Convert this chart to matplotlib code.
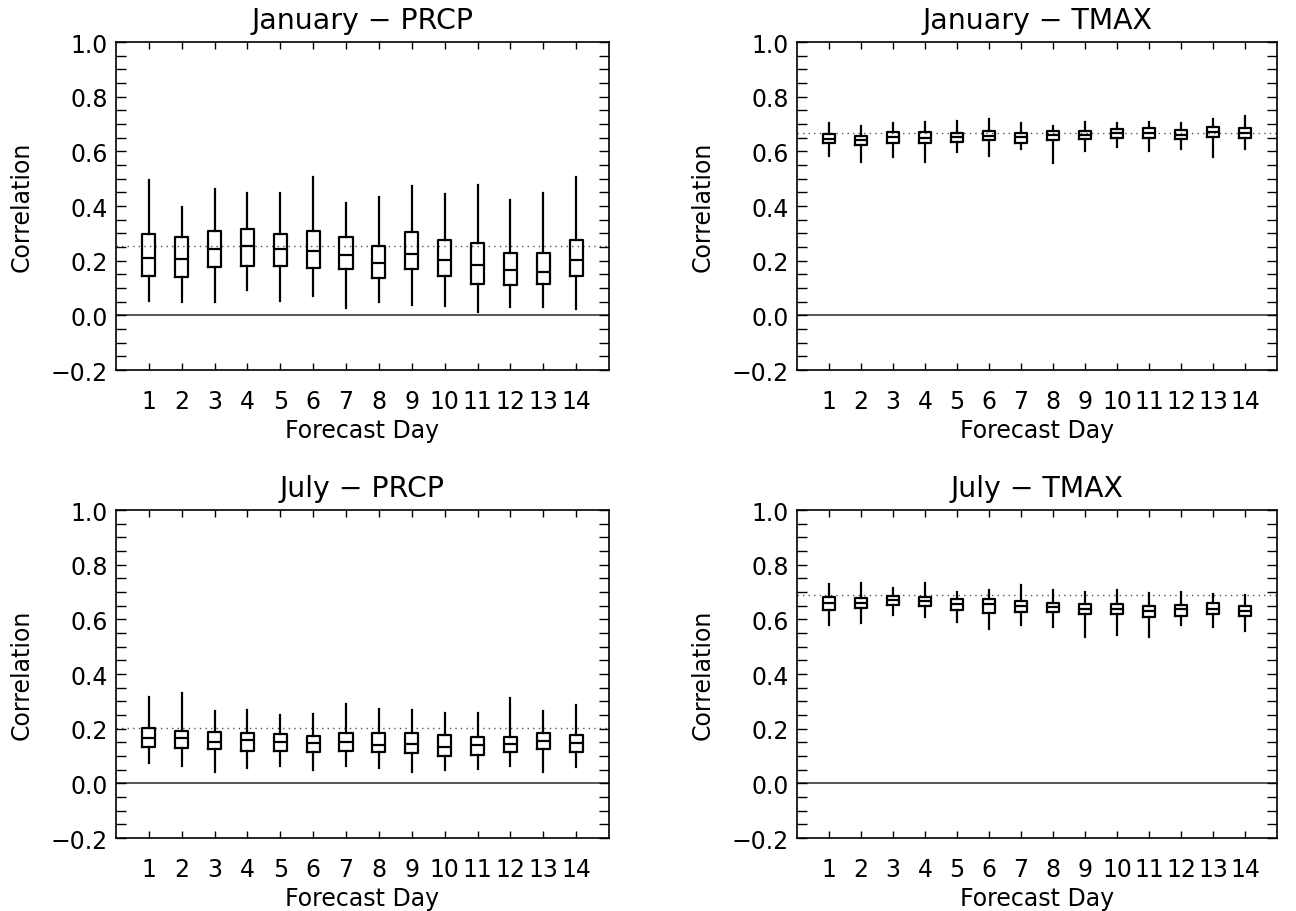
import matplotlib
matplotlib.use("Agg")
import matplotlib.pyplot as plt
from matplotlib.ticker import MultipleLocator

plt.rcParams['font.family'] = ['DejaVu Sans']
plt.rcParams['font.size'] = 17

days = list(range(1, 15))

# each panel: whisker low, box low, median, box high, whisker high
jan_prcp_lo = [0.053, 0.049, 0.049, 0.094, 0.052, 0.072, 0.027, 0.050, 0.039, 0.036, 0.012, 0.032, 0.029, 0.024]
jan_prcp_q1 = [0.143, 0.140, 0.176, 0.180, 0.180, 0.173, 0.171, 0.137, 0.169, 0.145, 0.114, 0.111, 0.114, 0.143]
jan_prcp_med = [0.210, 0.205, 0.242, 0.252, 0.244, 0.237, 0.219, 0.191, 0.224, 0.204, 0.186, 0.167, 0.157, 0.202]
jan_prcp_q3 = [0.297, 0.286, 0.310, 0.316, 0.299, 0.309, 0.287, 0.253, 0.305, 0.274, 0.263, 0.227, 0.227, 0.274]
jan_prcp_hi = [0.496, 0.395, 0.464, 0.449, 0.449, 0.505, 0.410, 0.433, 0.472, 0.445, 0.477, 0.423, 0.447, 0.508]
jan_prcp_ref = 0.253

jan_tmax_lo = [0.584, 0.562, 0.578, 0.562, 0.598, 0.584, 0.607, 0.557, 0.602, 0.615, 0.602, 0.610, 0.580, 0.610]
jan_tmax_q1 = [0.629, 0.624, 0.632, 0.630, 0.633, 0.642, 0.632, 0.640, 0.644, 0.650, 0.648, 0.644, 0.653, 0.649]
jan_tmax_med = [0.644, 0.643, 0.653, 0.650, 0.654, 0.655, 0.653, 0.659, 0.660, 0.667, 0.666, 0.661, 0.671, 0.669]
jan_tmax_q3 = [0.663, 0.655, 0.670, 0.670, 0.666, 0.675, 0.666, 0.675, 0.675, 0.682, 0.684, 0.680, 0.688, 0.687]
jan_tmax_hi = [0.705, 0.691, 0.705, 0.709, 0.710, 0.717, 0.702, 0.691, 0.709, 0.705, 0.709, 0.704, 0.720, 0.729]
jan_tmax_ref = 0.669

jul_prcp_lo = [0.073, 0.062, 0.043, 0.055, 0.065, 0.050, 0.065, 0.055, 0.043, 0.049, 0.054, 0.062, 0.043, 0.059]
jul_prcp_q1 = [0.132, 0.128, 0.125, 0.119, 0.118, 0.114, 0.118, 0.113, 0.112, 0.102, 0.104, 0.114, 0.124, 0.114]
jul_prcp_med = [0.167, 0.167, 0.151, 0.160, 0.153, 0.149, 0.152, 0.141, 0.144, 0.134, 0.141, 0.145, 0.156, 0.147]
jul_prcp_q3 = [0.203, 0.190, 0.188, 0.185, 0.180, 0.175, 0.183, 0.183, 0.185, 0.178, 0.171, 0.169, 0.185, 0.178]
jul_prcp_hi = [0.315, 0.330, 0.264, 0.269, 0.250, 0.253, 0.290, 0.272, 0.269, 0.257, 0.259, 0.314, 0.264, 0.285]
jul_prcp_ref = 0.201

jul_tmax_lo = [0.579, 0.586, 0.615, 0.607, 0.591, 0.564, 0.580, 0.572, 0.536, 0.544, 0.537, 0.580, 0.574, 0.559]
jul_tmax_q1 = [0.633, 0.642, 0.653, 0.650, 0.636, 0.625, 0.628, 0.626, 0.619, 0.619, 0.608, 0.614, 0.618, 0.613]
jul_tmax_med = [0.661, 0.660, 0.672, 0.667, 0.658, 0.655, 0.648, 0.646, 0.639, 0.639, 0.630, 0.637, 0.639, 0.631]
jul_tmax_q3 = [0.682, 0.677, 0.686, 0.683, 0.674, 0.675, 0.666, 0.661, 0.655, 0.655, 0.648, 0.653, 0.660, 0.648]
jul_tmax_hi = [0.730, 0.734, 0.716, 0.734, 0.699, 0.709, 0.727, 0.709, 0.702, 0.709, 0.698, 0.702, 0.692, 0.689]
jul_tmax_ref = 0.691

panels = [
    ("January \u2212 PRCP", jan_prcp_lo, jan_prcp_q1, jan_prcp_med, jan_prcp_q3, jan_prcp_hi, jan_prcp_ref),
    ("January \u2212 TMAX", jan_tmax_lo, jan_tmax_q1, jan_tmax_med, jan_tmax_q3, jan_tmax_hi, jan_tmax_ref),
    ("July \u2212 PRCP", jul_prcp_lo, jul_prcp_q1, jul_prcp_med, jul_prcp_q3, jul_prcp_hi, jul_prcp_ref),
    ("July \u2212 TMAX", jul_tmax_lo, jul_tmax_q1, jul_tmax_med, jul_tmax_q3, jul_tmax_hi, jul_tmax_ref),
]

# axes rectangles in figure fractions (left, bottom, width, height)
rects = [
    (0.0895, 0.5932, 0.3804, 0.3596),
    (0.6150, 0.5932, 0.3704, 0.3596),
    (0.0895, 0.0800, 0.3804, 0.3596),
    (0.6150, 0.0800, 0.3704, 0.3596),
]

fig = plt.figure(figsize=(12.96, 9.12), dpi=100)

for rect, (title, lo, q1, med, q3, hi, ref) in zip(rects, panels):
    ax = fig.add_axes(rect)
    stats = []
    for i in range(len(days)):
        stats.append(dict(whislo=lo[i], q1=q1[i], med=med[i], q3=q3[i], whishi=hi[i], fliers=[]))
    ax.bxp(stats, positions=days, widths=0.4, showcaps=False, showfliers=False,
           boxprops=dict(color='black', linewidth=1.6),
           whiskerprops=dict(color='black', linewidth=1.6),
           medianprops=dict(color='black', linewidth=1.6))
    ax.axhline(0.0, color='#555555', linewidth=1.4, zorder=0)
    ax.axhline(ref, color='#555555', linewidth=1.0, linestyle=(0, (1, 3)), zorder=0)

    ax.set_xlim(0, 15)
    ax.set_ylim(-0.2, 1.0)
    ax.set_xticks(days)
    ax.set_xticklabels([str(d) for d in days])
    ax.yaxis.set_major_locator(MultipleLocator(0.2))
    ax.yaxis.set_minor_locator(MultipleLocator(0.05))
    ax.tick_params(axis='x', which='both', direction='in', top=True, length=5, width=1, pad=14)
    ax.tick_params(axis='y', which='both', direction='in', right=True, length=7, width=1, pad=6)
    for s in ax.spines.values():
        s.set_linewidth(1.2)

    ax.set_title(title, pad=10)
    ax.set_xlabel("Forecast Day", labelpad=3)
    ax.set_ylabel("Correlation", labelpad=12)

fig.savefig("out.png", dpi=100)
